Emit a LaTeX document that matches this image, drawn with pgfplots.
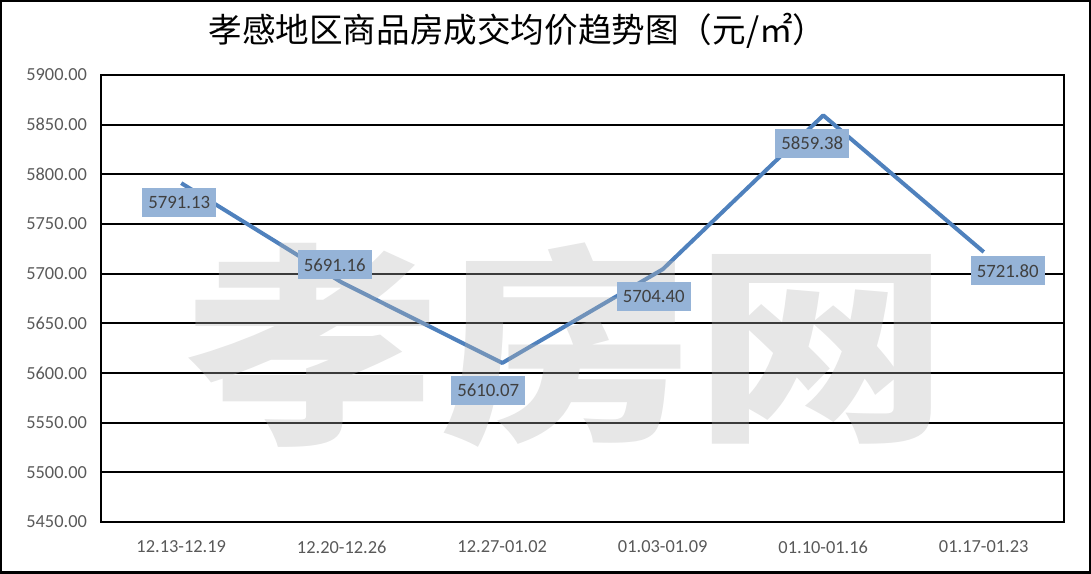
\documentclass[border=0pt]{standalone}
\usepackage{pgfplots}
\pgfplotsset{compat=1.18}
\usepackage{pgfplotstable}
\usepackage{fontspec}
\setmainfont{Carlito}
\newfontfamily\cjk{Noto Sans CJK SC}
\definecolor{linec}{HTML}{4F81BD}
\definecolor{labc}{HTML}{95B3D7}
\definecolor{tickc}{HTML}{595959}
\definecolor{labt}{HTML}{404040}

\pgfplotstableread{
x y dx dy
0 5791.13 -1 -9.75
1 5691.16 -3.5 8.75
2 5610.07 -7 -13.75
3 5704.40 -4.5 -13.5
4 5859.38 -5.5 -14
5 5721.80 12 -9.5
}\datatable

\begin{document}
\begin{tikzpicture}
\begin{axis}[
  scale only axis, width=481.5pt, height=223.5pt,
  xmin=-0.5, xmax=5.5, ymin=5450, ymax=5900,
  xtick={0,...,5},
  xticklabels={12.13-12.19,12.20-12.26,12.27-01.02,01.03-01.09,01.10-01.16,01.17-01.23},
  ytick={5450,5500,...,5900},
  ymajorgrids, grid style={black, line width=1pt},
  axis line style={black, line width=1pt},
  major tick length=0pt,
  tick label style={font=\fontsize{9.2}{11}\selectfont, text=tickc},
  yticklabel style={xshift=-3.5pt},
  xticklabel style={yshift=-6pt},
  /pgf/number format/.cd, fixed, fixed zerofill, precision=2, 1000 sep={}, assume math mode=true, /pgfplots/.cd,
  title={孝感地区商品房成交均价趋势图（元/㎡）},
  title style={at={(rel axis cs:0.5,1)}, anchor=center, yshift=16pt, xshift=-32.5pt, font=\cjk\fontsize{16.8}{18}\selectfont},
  every node near coord/.append style={anchor=center, fill=labc, text=labt, inner xsep=0pt, inner ysep=0pt,
     minimum width=37pt, minimum height=14.5pt, font=\fontsize{9.4}{11}\selectfont,
     xshift=\dx*1pt, yshift=\dy*1pt},
]
\addplot[linec, line width=2pt, no marks, line join=round,
  visualization depends on={\thisrow{dx}\as\dx},
  visualization depends on={\thisrow{dy}\as\dy},
  nodes near coords] table[x=x, y=y] {\datatable};
\node[font=\cjk\bfseries\fontsize{106}{106}\selectfont, text=black!29, opacity=0.33, xscale=1.2]
  at (rel axis cs:0.484,0.395) {孝房网};
\end{axis}
\draw[line width=1.25pt] ([shift={(-49.875pt,-25.375pt)}]current axis.south west) rectangle ([shift={(12.875pt,36.875pt)}]current axis.north east);
\end{tikzpicture}
\end{document}
